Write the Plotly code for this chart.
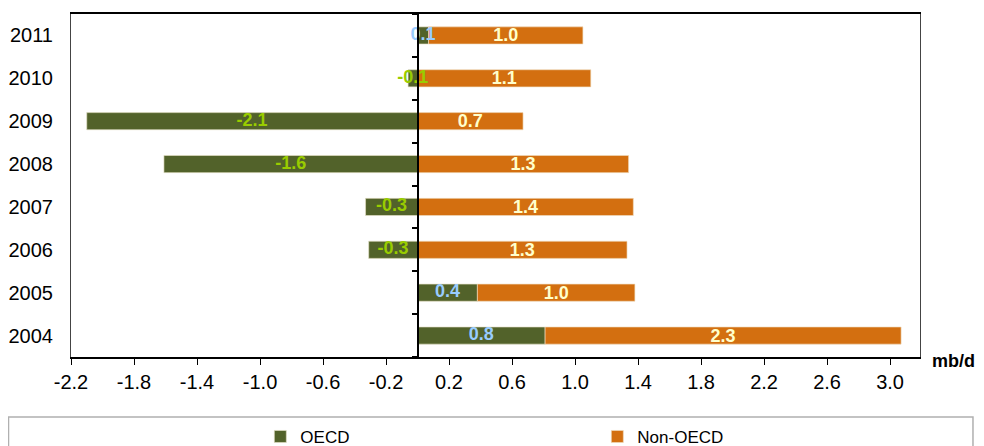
import plotly.graph_objects as go

years = ["2004", "2005", "2006", "2007", "2008", "2009", "2010", "2011"]
oecd = [0.81, 0.38, -0.31, -0.33, -1.61, -2.10, -0.06, 0.07]
non_oecd = [2.26, 1.00, 1.33, 1.37, 1.34, 0.67, 1.10, 0.98]
x_ticks = [-2.2, -1.8, -1.4, -1.0, -0.6, -0.2, 0.2, 0.6, 1.0, 1.4, 1.8, 2.2, 2.6, 3.0]

GREEN = "#52622a"
ORANGE = "#d36f10"
FONT = "Liberation Sans, Arial, sans-serif"

oecd_text = [f"{v:.1f}" for v in oecd]
oecd_text_colors = ["#99ccff" if v > 0 else "#99cc00" for v in oecd]
non_text = [f"{v:.1f}" for v in non_oecd]

fig = go.Figure()
fig.add_trace(go.Bar(
    y=years, x=oecd, orientation="h", name="OECD",
    marker=dict(color=GREEN, line=dict(color="rgba(230,225,200,0.8)", width=0.8)),
    hoverinfo="skip",
))
fig.add_trace(go.Bar(
    y=years, x=non_oecd, orientation="h", name="Non-OECD",
    marker=dict(color=ORANGE, line=dict(color="rgba(240,220,190,0.8)", width=0.8)),
    text=non_text, textposition="inside", insidetextanchor="middle",
    textangle=0, constraintext="none",
    textfont=dict(color="#ffffcc", size=18, family=FONT, weight="bold"),
    hoverinfo="skip",
))
# OECD value labels drawn on top of the bars, at the centre of each OECD bar
fig.add_trace(go.Scatter(
    y=years, x=[v / 2 for v in oecd], mode="text", text=oecd_text,
    textposition="middle center",
    textfont=dict(color=oecd_text_colors, size=18, family=FONT, weight="bold"),
    showlegend=False, hoverinfo="skip", cliponaxis=False,
))
# invisible helper trace for the category ticks on the zero line
fig.add_trace(go.Scatter(
    y=years, x=[0] * len(years), yaxis="y2", mode="markers",
    marker=dict(opacity=0), showlegend=False, hoverinfo="skip",
))

xmin, xmax = -2.2, 3.19
zero_pos = (0 - xmin) / (xmax - xmin)

fig.update_layout(
    width=968, height=438,
    margin=dict(l=63, r=56, t=6, b=89, autoexpand=False),
    paper_bgcolor="white", plot_bgcolor="white",
    barmode="relative", bargap=0.6,
    font=dict(family=FONT, color="black", size=20),
    xaxis=dict(
        range=[xmin, xmax], tickvals=x_ticks,
        ticktext=[f"{t:.1f}" for t in x_ticks],
        ticks="outside", ticklen=6, tickcolor="black", tickwidth=1,
        showgrid=False, zeroline=False,
        showline=True, linecolor="black", linewidth=1.5, mirror=True,
        tickfont=dict(size=20),
    ),
    yaxis=dict(
        range=[-0.5, 7.5], type="category", categoryarray=years,
        showgrid=False, zeroline=False, ticks="", ticklen=0,
        showline=True, linecolor="#444444", linewidth=1, mirror=True,
        tickfont=dict(size=20), ticklabelstandoff=13,
    ),
    yaxis2=dict(
        overlaying="y", anchor="free", position=zero_pos,
        range=[-0.5, 7.5], type="category", categoryarray=years,
        showticklabels=False, showgrid=False, zeroline=False,
        ticks="outside", tickson="boundaries", ticklen=5, tickcolor="black", tickwidth=1.5,
        showline=True, linecolor="black", linewidth=2,
    ),
    showlegend=True,
    legend=dict(
        orientation="h", x=0.223, xanchor="left", y=-0.233, yanchor="middle",
        entrywidth=292, entrywidthmode="pixels",
        font=dict(size=17, family=FONT), bgcolor="rgba(0,0,0,0)",
        itemclick=False, itemdoubleclick=False,
    ),
    shapes=[dict(
        type="rect", xref="paper", yref="paper",
        x0=-0.0736, x1=1.0624, y0=-0.30, y1=-0.175,
        line=dict(color="#b0b0b0", width=1.5), fillcolor="rgba(0,0,0,0)",
        layer="below",
    )],
    annotations=[dict(
        text="<b>mb/d</b>", xref="paper", yref="paper",
        x=1.0118, xanchor="left", y=-0.012, yanchor="middle",
        showarrow=False, font=dict(size=18, family=FONT),
    )],
)

fig.write_html("out.html")
